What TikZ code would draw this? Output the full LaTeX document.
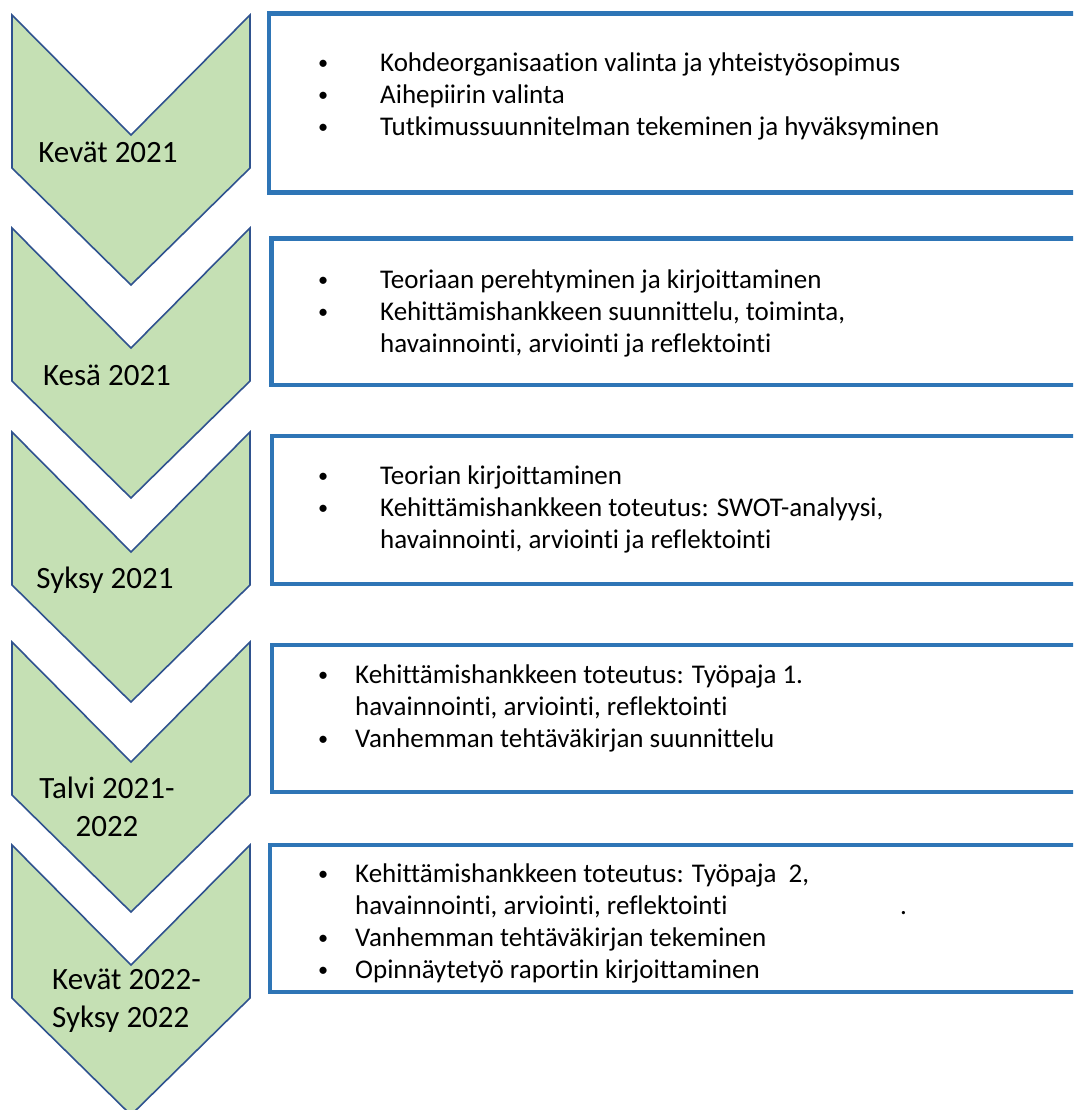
\documentclass[tikz,border=0pt]{standalone}
\usepackage{fontspec}
\setmainfont{Carlito}[Ligatures=NoCommon]
\usetikzlibrary{positioning}
\definecolor{chevgreen}{HTML}{C5E0B4}
\definecolor{chevedge}{HTML}{2F528F}
\definecolor{boxblue}{HTML}{2E75B6}
\newcommand{\blt}{\raisebox{1.5pt}{\scalebox{0.75}{\textbullet}}}

\begin{document}
\begin{tikzpicture}[
  x=1pt,y=-1pt,
  chev/.style={draw=chevedge,fill=chevgreen,line width=1.6pt,line join=miter},
  period/.style={font=\fontsize{31}{38}\selectfont,inner sep=0pt,align=center},
  tlbox/.style={draw=boxblue,line width=4.2pt,fill=white,outer sep=0pt,anchor=north west,minimum width=840pt},
  items/.style={font=\fontsize{27}{32}\selectfont,inner sep=0pt,anchor=west}
]
  \clip (0,0) rectangle (1073,1110);
  \fill[white] (0,0) rectangle (1073,1110);
  % chevrons
  \foreach \t in {15,228,432,642,845}
    \draw[chev] (12,\t) -- (131,\t+120) -- (250,\t) -- (250,\t+153) -- (131,\t+270) -- (12,\t+153) -- cycle;
  \node[period] (lab1) at (108,152) {Kevät 2021};
  \node[period] (lab2) at (107,375) {Kesä 2021};
  \node[period] (lab3) at (105,580) {Syksy 2021};
  \node[period] (lab4) at (107,807) {Talvi 2021-\\2022};
  \node[period,align=left,anchor=west] (lab5) at (52,1001) {Kevät 2022-\\Syksy 2022};
  % boxes
  \node[tlbox,minimum height=179pt]   (box1) at (269,13.5) {};
  \node[tlbox,minimum height=146.5pt] (box2) at (271.5,238.5) {};
  \node[tlbox,minimum height=148pt]   (box3) at (272,436) {};
  \node[tlbox,minimum height=147pt]   (box4) at (272,645) {};
  \node[tlbox,minimum height=147pt]   (box5) at (270,845) {};
  % box texts
  \node[items] (txt1) at (318,97) {\begin{tabular}{@{}p{62pt}@{}l@{}}
    \blt & Kohdeorganisaation valinta ja yhteistyösopimus\\
    \blt & Aihepiirin valinta\\
    \blt & Tutkimussuunnitelman tekeminen ja hyväksyminen
  \end{tabular}};
  \node[items] (txt2) at (318,314) {\begin{tabular}{@{}p{62pt}@{}l@{}}
    \blt & Teoriaan perehtyminen ja kirjoittaminen\\
    \blt & Kehittämishankkeen suunnittelu, toiminta,\\
    & havainnointi, arviointi ja reflektointi
  \end{tabular}};
  \node[items] (txt3) at (318,510) {\begin{tabular}{@{}p{62pt}@{}l@{}}
    \blt & Teorian kirjoittaminen\\
    \blt & Kehittämishankkeen toteutus: SWOT-analyysi,\\
    & havainnointi, arviointi ja reflektointi
  \end{tabular}};
  \node[items] (txt4) at (318,709) {\begin{tabular}{@{}p{37pt}@{}l@{}}
    \blt & Kehittämishankkeen toteutus: Työpaja 1.\\
    & havainnointi, arviointi, reflektointi\\
    \blt & Vanhemman tehtäväkirjan suunnittelu
  \end{tabular}};
  \node[items] (txt5) at (318,924) {\begin{tabular}{@{}p{37pt}@{}l@{}}
    \blt & Kehittämishankkeen toteutus: Työpaja\ \ 2,\\
    & \rlap{havainnointi, arviointi, reflektointi}\hspace{545pt}.\\
    \blt & Vanhemman tehtäväkirjan tekeminen\\
    \blt & Opinnäytetyö raportin kirjoittaminen
  \end{tabular}};
\end{tikzpicture}
\end{document}
